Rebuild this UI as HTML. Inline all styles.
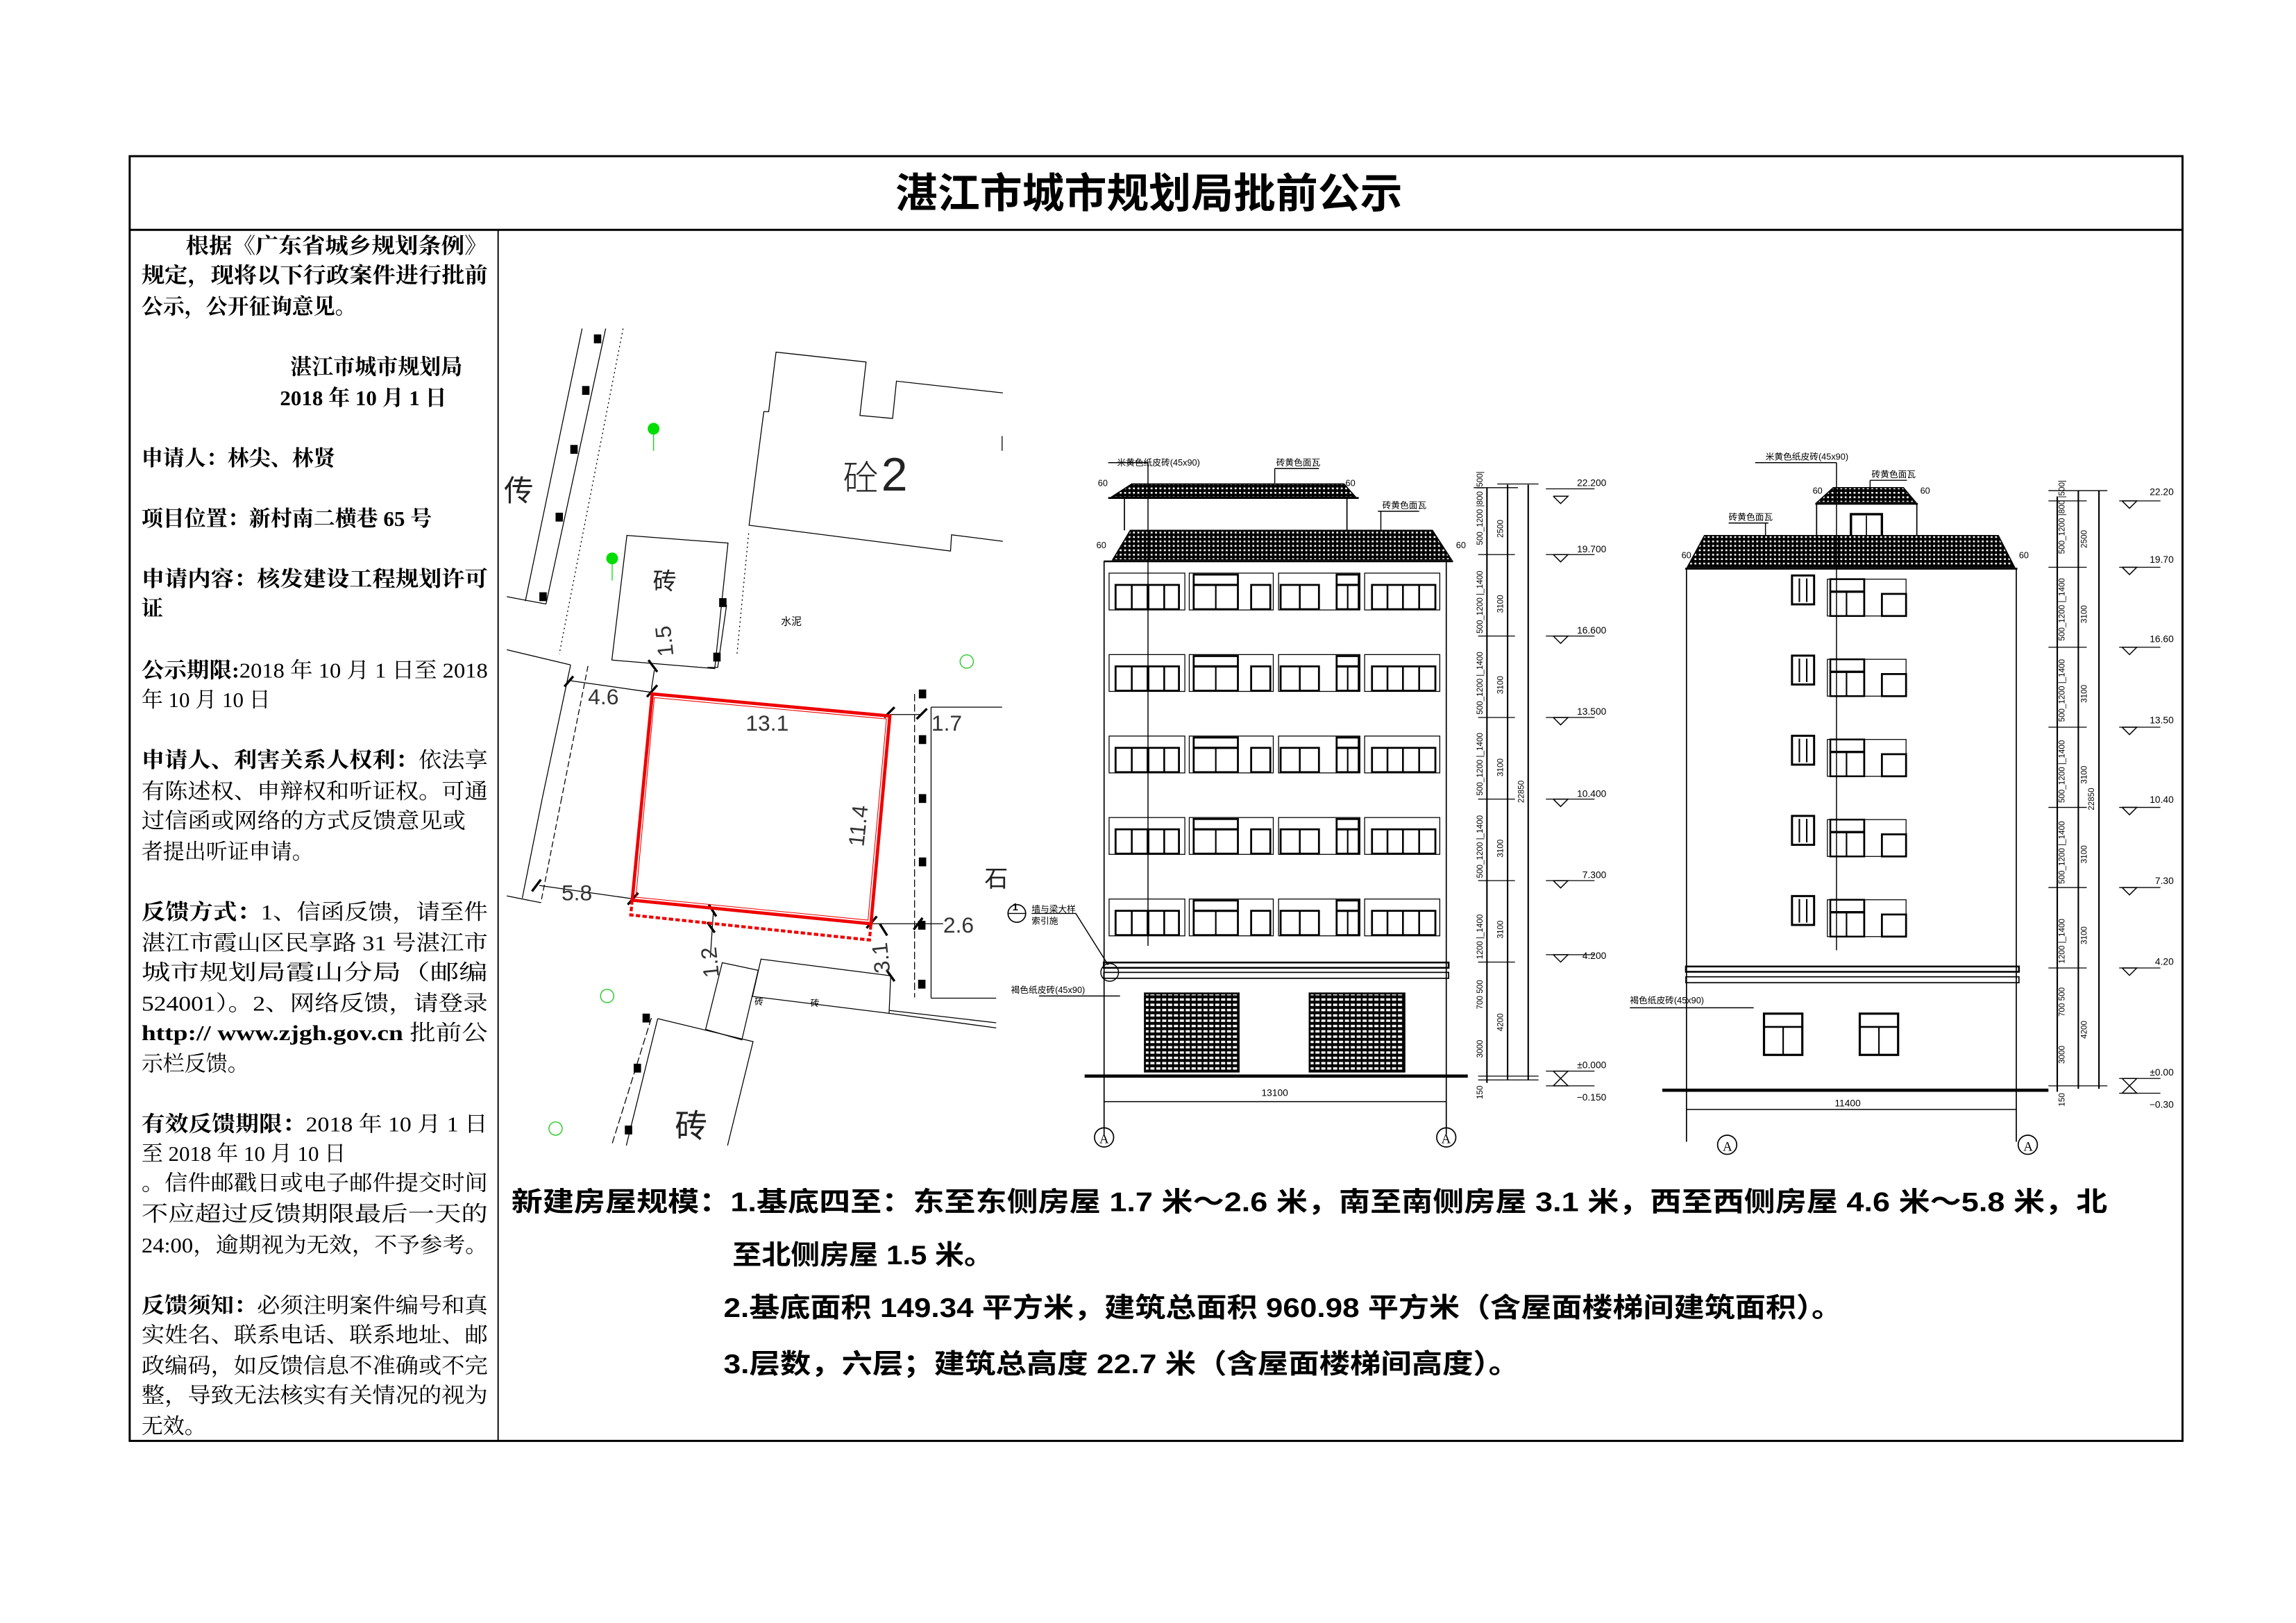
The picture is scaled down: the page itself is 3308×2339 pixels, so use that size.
<!DOCTYPE html>
<html><head><meta charset="utf-8"><style>
html,body{margin:0;padding:0;background:#fff;}
svg{display:block;}
.s{font-family:"Liberation Serif","Noto Serif CJK SC",serif;}
.h{font-family:"Liberation Sans","Noto Sans CJK SC",sans-serif;}
</style></head><body>
<svg width="3308" height="2339" viewBox="0 0 1558 1101.6" preserveAspectRatio="none" xmlns="http://www.w3.org/2000/svg">
<defs>
<pattern id="tile" width="3" height="3" patternUnits="userSpaceOnUse">
<rect width="3" height="3" fill="#000"/><rect x="0.8" y="0.9" width="1.3" height="1.2" fill="#fff"/>
</pattern>
<pattern id="garage" width="4" height="3.6" patternUnits="userSpaceOnUse">
<rect width="4" height="3.6" fill="#000"/><rect x="0.6" y="0.8" width="2.8" height="1.6" fill="#fff"/>
</pattern>
<g id="row1" fill="none" stroke="#000">
<rect x="752.6" y="0" width="51.4" height="25" stroke-width="0.6"/>
<rect x="757" y="8" width="43" height="16.5" stroke-width="1.3"/>
<line x1="768" y1="8" x2="768" y2="24.5" stroke-width="1.2"/><line x1="779" y1="8" x2="779" y2="24.5" stroke-width="1.8"/><line x1="790" y1="8" x2="790" y2="24.5" stroke-width="1.2"/>
<rect x="807" y="0" width="57" height="25" stroke-width="0.6"/>
<rect x="810" y="1" width="30" height="23.5" stroke-width="1.3"/><line x1="810" y1="8" x2="840" y2="8" stroke-width="1.5"/><line x1="825" y1="8" x2="825" y2="24.5" stroke-width="1"/>
<rect x="849" y="8" width="13" height="16.5" stroke-width="1.3"/>
<rect x="867.6" y="0" width="55.2" height="25" stroke-width="0.6"/>
<rect x="869" y="8" width="26" height="16.5" stroke-width="1.3"/><line x1="882" y1="8" x2="882" y2="24.5" stroke-width="1.2"/>
<rect x="907" y="1" width="15" height="23.5" stroke-width="1.3"/><line x1="907" y1="8" x2="922" y2="8" stroke-width="1.5"/><line x1="914.5" y1="8" x2="914.5" y2="24.5" stroke-width="1"/>
<rect x="926" y="0" width="51" height="25" stroke-width="0.6"/>
<rect x="931" y="8" width="43" height="16.5" stroke-width="1.3"/>
<line x1="941.5" y1="8" x2="941.5" y2="24.5" stroke-width="1.2"/><line x1="952" y1="8" x2="952" y2="24.5" stroke-width="1.2"/><line x1="963" y1="8" x2="963" y2="24.5" stroke-width="1.2"/>
</g>
<g id="row2" fill="none" stroke="#000">
<rect x="1216" y="0" width="15" height="19.6" stroke-width="1.4"/><line x1="1221" y1="2" x2="1221" y2="18" stroke-width="1"/><line x1="1226" y1="2" x2="1226" y2="18" stroke-width="1"/>
<rect x="1240" y="2.5" width="53.4" height="25" stroke-width="0.6"/>
<rect x="1242" y="2.5" width="23" height="25" stroke-width="1.2"/><line x1="1242" y1="11" x2="1265" y2="11" stroke-width="1.6"/><line x1="1253" y1="11" x2="1253" y2="27.5" stroke-width="1"/>
<line x1="1265" y1="2.5" x2="1265" y2="27.5" stroke-width="1.2"/>
<rect x="1277" y="12.5" width="16.4" height="15" stroke-width="1.3"/>
</g>
</defs>

<!-- outer frame -->
<rect x="88" y="106" width="1393" height="872" fill="none" stroke="#000" stroke-width="1.4"/>
<line x1="88" y1="156" x2="1481" y2="156" stroke="#000" stroke-width="1.4"/>
<line x1="338" y1="156" x2="338" y2="978" stroke="#000" stroke-width="0.9"/>
<text x="607.6" y="141" class="h" font-size="28" font-weight="bold" textLength="344" lengthAdjust="spacingAndGlyphs">湛江市城市规划局批前公示</text>

<!-- left text -->
<g class="s" font-size="14.6" fill="#000">
<g font-weight="bold">
<text x="126" y="172" textLength="205" lengthAdjust="spacingAndGlyphs">根据《广东省城乡规划条例》</text>
<text x="96" y="192" textLength="235" lengthAdjust="spacingAndGlyphs">规定，现将以下行政案件进行批前</text>
<text x="96" y="213">公示，公开征询意见。</text>
<text x="197" y="254">湛江市城市规划局</text>
<text x="190" y="275">2018 年 10 月 1 日</text>
</g>
<text x="96" y="316"><tspan font-weight="bold">申请人：林尖、林贤</tspan></text>
<text x="96" y="357" font-weight="bold">项目位置：新村南二横巷 65 号</text>
<text x="96" y="398" font-weight="bold" textLength="235" lengthAdjust="spacingAndGlyphs">申请内容：核发建设工程规划许可</text>
<text x="96" y="418" font-weight="bold">证</text>
<text x="96" y="460" textLength="235" lengthAdjust="spacingAndGlyphs"><tspan font-weight="bold">公示期限:</tspan>2018 年 10 月 1 日至 2018</text>
<text x="96" y="480">年 10 月 10 日</text>
<text x="96" y="521" textLength="235" lengthAdjust="spacingAndGlyphs"><tspan font-weight="bold">申请人、利害关系人权利：</tspan>依法享</text>
<text x="96" y="542" textLength="235" lengthAdjust="spacingAndGlyphs">有陈述权、申辩权和听证权。可通</text>
<text x="96" y="562" textLength="220" lengthAdjust="spacingAndGlyphs">过信函或网络的方式反馈意见或</text>
<text x="96" y="583">者提出听证申请。</text>
<text x="96" y="624" textLength="235" lengthAdjust="spacingAndGlyphs"><tspan font-weight="bold">反馈方式：</tspan>1、信函反馈，请至件</text>
<text x="96" y="645" textLength="235" lengthAdjust="spacingAndGlyphs">湛江市霞山区民享路 31 号湛江市</text>
<text x="96" y="665" textLength="235" lengthAdjust="spacingAndGlyphs">城市规划局霞山分局（邮编</text>
<text x="96" y="686" textLength="235" lengthAdjust="spacingAndGlyphs">524001）。2、网络反馈，请登录</text>
<text x="96" y="706" textLength="235" lengthAdjust="spacingAndGlyphs"><tspan font-weight="bold">http:// www.zjgh.gov.cn</tspan> 批前公</text>
<text x="96" y="727">示栏反馈。</text>
<text x="96" y="768" textLength="235" lengthAdjust="spacingAndGlyphs"><tspan font-weight="bold">有效反馈期限：</tspan>2018 年 10 月 1 日</text>
<text x="96" y="788">至 2018 年 10 月 10 日</text>
<text x="96" y="808" textLength="235" lengthAdjust="spacingAndGlyphs">。信件邮戳日或电子邮件提交时间</text>
<text x="96" y="829" textLength="235" lengthAdjust="spacingAndGlyphs">不应超过反馈期限最后一天的</text>
<text x="96" y="850" textLength="235" lengthAdjust="spacingAndGlyphs">24:00，逾期视为无效，不予参考。</text>
<text x="96" y="891" textLength="235" lengthAdjust="spacingAndGlyphs"><tspan font-weight="bold">反馈须知：</tspan>必须注明案件编号和真</text>
<text x="96" y="911" textLength="235" lengthAdjust="spacingAndGlyphs">实姓名、联系电话、联系地址、邮</text>
<text x="96" y="932" textLength="235" lengthAdjust="spacingAndGlyphs">政编码，如反馈信息不准确或不完</text>
<text x="96" y="952" textLength="235" lengthAdjust="spacingAndGlyphs">整，导致无法核实有关情况的视为</text>
<text x="96" y="973">无效。</text>
</g>

<!-- bottom text -->
<g class="h" font-size="18.5" font-weight="bold" fill="#000">
<text x="347" y="822" textLength="1083" lengthAdjust="spacingAndGlyphs">新建房屋规模：1.基底四至：东至东侧房屋 1.7 米～2.6 米，南至南侧房屋 3.1 米，西至西侧房屋 4.6 米～5.8 米，北</text>
<text x="497" y="858" textLength="177" lengthAdjust="spacingAndGlyphs">至北侧房屋 1.5 米。</text>
<text x="491" y="894" textLength="759" lengthAdjust="spacingAndGlyphs">2.基底面积 149.34 平方米，建筑总面积 960.98 平方米（含屋面楼梯间建筑面积）。</text>
<text x="491" y="932" textLength="540" lengthAdjust="spacingAndGlyphs">3.层数，六层；建筑总高度 22.7 米（含屋面楼梯间高度）。</text>
</g>

<!-- site plan -->
<g fill="none" stroke="#000" stroke-width="0.6">
<line x1="395" y1="223" x2="356.5" y2="408"/>
<line x1="411" y1="223" x2="370.5" y2="410"/>
<line x1="422.8" y1="223" x2="379.5" y2="444" stroke-dasharray="1,2"/>
<line x1="343.9" y1="405" x2="370.5" y2="410"/>
<line x1="343.9" y1="441" x2="387.2" y2="451.3"/>
<line x1="387.2" y1="451.3" x2="368" y2="541.7"/>
<line x1="399" y1="452" x2="381.1" y2="541.7" stroke-dasharray="4,2"/>
<line x1="368" y1="541.7" x2="354.4" y2="609.6"/>
<line x1="381.1" y1="541.7" x2="367" y2="612.7" stroke-dasharray="4,2"/>
<line x1="343.9" y1="608.1" x2="367" y2="612.7"/>
<polyline points="680.5,266.7 608.3,258.7 605.7,284 583.5,282 587.7,245.7 526.6,239 521.6,279.4 518.3,279.4 508.3,356.5 645,374 645.7,363 680.5,367.4"/>
<line x1="680" y1="296" x2="680" y2="306"/>
<line x1="508" y1="362" x2="500" y2="445" stroke-dasharray="1,2"/>
<polygon points="425.4,363.4 494,368.6 485,453.8 415.2,448"/>
<polyline points="489,411 493,411 487,453 480,453"/>
<line x1="444" y1="455" x2="442" y2="468"/>
<!-- east -->
<line x1="620.6" y1="471" x2="620.6" y2="677" stroke-dasharray="5,2"/>
<line x1="631.8" y1="480" x2="631.8" y2="677.5"/>
<line x1="631.8" y1="480" x2="680" y2="480"/>
<line x1="631.8" y1="677.5" x2="676" y2="677.5"/>
<line x1="603.3" y1="685.8" x2="676" y2="694.2"/>
<line x1="603.3" y1="687.8" x2="676" y2="697.7"/>
<!-- south -->
<polygon points="490.1,653.4 514.5,658.6 503.4,705.8 478.8,698.7"/>
<polygon points="516.4,651 604.4,662.3 603.3,687.8 510.6,676.3"/>
<polyline points="446.3,691.4 511,707 493.7,777.5"/>
<line x1="446.3" y1="691.4" x2="425" y2="777.5"/>
<line x1="442" y1="691" x2="415" y2="777.5" stroke-dasharray="5,2"/>
<!-- dim lines -->
<line x1="387" y1="462" x2="442.6" y2="470"/>
<line x1="366" y1="601" x2="429" y2="610"/>
<line x1="603.8" y1="485" x2="626" y2="485"/>
<line x1="591" y1="627" x2="640" y2="627"/>
<line x1="484" y1="620" x2="482" y2="650"/>
</g>
<g fill="#000">
<rect x="403" y="227" width="5" height="6"/><rect x="395" y="262" width="5" height="6"/><rect x="387" y="302" width="5" height="6"/><rect x="377" y="348" width="5" height="6"/><rect x="366" y="402" width="5" height="6"/>
<rect x="488" y="406" width="5" height="6"/><rect x="484" y="443" width="5" height="6"/>
<rect x="623.5" y="468" width="5" height="6"/><rect x="623.5" y="499" width="5" height="6"/><rect x="623.5" y="539" width="5" height="6"/><rect x="623.5" y="582" width="5" height="6"/><rect x="623" y="625" width="5" height="6"/><rect x="623" y="665" width="5" height="6"/>
<rect x="436" y="688" width="5" height="6"/><rect x="430" y="722" width="5" height="6"/><rect x="424" y="764" width="5" height="6"/>
</g>
<g stroke="#000" stroke-width="1.6">
<line x1="383" y1="466" x2="389" y2="459"/><line x1="439" y1="473" x2="446" y2="465"/><line x1="440" y1="448" x2="446" y2="456"/>
<line x1="600" y1="487" x2="607" y2="480"/><line x1="622" y1="488" x2="629" y2="481"/>
<line x1="361" y1="605" x2="367" y2="597"/><line x1="426" y1="614" x2="433" y2="606"/>
<line x1="481" y1="614" x2="486" y2="622"/><line x1="480" y1="626" x2="485" y2="633"/>
<line x1="588" y1="630" x2="595" y2="622"/><line x1="597" y1="627" x2="602" y2="635"/><line x1="620" y1="631" x2="626" y2="623"/>
<line x1="602" y1="659" x2="607" y2="666"/>
</g>
<!-- red site -->
<polygon points="442.6,471 603.8,486 591,627 429,611" fill="none" stroke="#e00" stroke-width="2.2"/>
<polygon points="444,473.5 601.5,488 589,624.5 431.5,609" fill="none" stroke="#e00" stroke-width="0.5"/>
<polyline points="429,611 428,621 590,638 591,627" fill="none" stroke="#e00" stroke-width="2" stroke-dasharray="3,1.5"/>
<!-- green -->
<g fill="#0d0" stroke="#0d0">
<ellipse cx="443.5" cy="291" rx="3.5" ry="3.5"/><line x1="443.5" y1="291" x2="443.5" y2="306" stroke-width="0.6"/>
<ellipse cx="415.4" cy="379" rx="3.5" ry="3.5"/><line x1="415.4" y1="379" x2="415.4" y2="394" stroke-width="0.6"/>
</g>
<g fill="none" stroke="#3c3" stroke-width="0.7">
<circle cx="656" cy="449" r="4.5"/><circle cx="412" cy="676" r="4.5"/><circle cx="377" cy="766" r="4.5"/>
</g>
<g class="h" fill="#000" font-weight="normal">
<text x="572" y="333" font-size="24" font-weight="300" fill="#222">砼</text>
<text x="598" y="333" font-size="32" font-weight="300" fill="#222">2</text>
<text x="443" y="400" font-size="16" fill="#222">砖</text>
<text x="530" y="424" font-size="7">水泥</text>
<text x="342" y="340" font-size="20" fill="#222">传</text>
<text x="458" y="772" font-size="22" fill="#222">砖</text>
<text x="668" y="602" font-size="16" fill="#222">石</text>
<text x="512" y="682" font-size="6">砖</text>
<text x="550" y="683" font-size="6">砖</text>
<g font-size="15" fill="#333">
<text x="399" y="478">4.6</text>
<text x="506" y="496">13.1</text>
<text x="632" y="496">1.7</text>
<text x="381" y="611">5.8</text>
<text x="640" y="633">2.6</text>
<text transform="translate(586,575) rotate(-84)">11.4</text>
<text transform="translate(457,445) rotate(-96)">1.5</text>
<text transform="translate(488,663) rotate(-96)">1.2</text>
<text transform="translate(604,660) rotate(-96)">3.1</text>
</g>
</g>

<!-- elevation 1 -->
<g stroke="#000" fill="none">
<polygon points="768,328.5 912,328.5 920,337.5 754,337.5" fill="url(#tile)" stroke-width="0.8"/>
<line x1="752" y1="338" x2="922" y2="338" stroke-width="1.2"/>
<line x1="763" y1="338" x2="763" y2="360" stroke-width="0.8"/>
<line x1="914" y1="338" x2="914" y2="360" stroke-width="0.8"/>
<polygon points="767,360 972,360 985,380 755,380" fill="url(#tile)" stroke-width="0.8"/>
<line x1="749" y1="381" x2="986" y2="381" stroke-width="1.2"/>
<line x1="749.2" y1="381" x2="749.2" y2="770" stroke-width="0.8"/>
<line x1="981.4" y1="381" x2="981.4" y2="770" stroke-width="0.8"/>
<line x1="779" y1="314" x2="779" y2="642" stroke-width="0.7"/>
<line x1="752" y1="314" x2="779" y2="314" stroke-width="0.7"/>
<line x1="865" y1="318" x2="895" y2="318" stroke-width="0.7"/><line x1="865" y1="318" x2="865" y2="328" stroke-width="0.7"/>
<line x1="935" y1="347" x2="963" y2="347" stroke-width="0.7"/><line x1="937" y1="347" x2="937" y2="360" stroke-width="0.7"/>
<rect x="749" y="653.3" width="234" height="3.6" stroke-width="1.2"/>
<rect x="749" y="660" width="234" height="4" stroke-width="0.8"/>
<line x1="736" y1="730.4" x2="996" y2="730.4" stroke-width="2.2"/>
<rect x="776.9" y="674.3" width="63.6" height="53" fill="url(#garage)" stroke-width="1.3"/>
<rect x="888.7" y="674.3" width="64.3" height="53" fill="url(#garage)" stroke-width="1.3"/>
<line x1="749" y1="747.7" x2="981.4" y2="747.7" stroke-width="0.7"/>
<circle cx="749.2" cy="772" r="6.5" stroke-width="0.8"/>
<circle cx="981.4" cy="772" r="6.5" stroke-width="0.8"/>
<circle cx="753" cy="660" r="6" stroke-width="0.7"/>
<polyline points="700,620 730,620 752,655" stroke-width="0.7"/>
<circle cx="690" cy="620" r="6" stroke-width="0.8"/>
<line x1="684" y1="620" x2="696" y2="620" stroke-width="0.7"/>
<line x1="705" y1="676" x2="760" y2="676" stroke-width="0.7"/>
<!-- dims -->
<line x1="1009" y1="331" x2="1009" y2="735" stroke-width="1"/>
<line x1="1023" y1="329" x2="1023" y2="733" stroke-width="1"/>
<line x1="1037" y1="329" x2="1037" y2="733" stroke-width="1"/>
<g stroke-width="0.6">
<line x1="1000" y1="331" x2="1030" y2="331"/><line x1="1016" y1="328.5" x2="1044" y2="328.5"/>
<line x1="1003" y1="376.4" x2="1028" y2="376.4"/><line x1="1003" y1="431.7" x2="1028" y2="431.7"/><line x1="1003" y1="487" x2="1028" y2="487"/><line x1="1003" y1="542.4" x2="1028" y2="542.4"/><line x1="1003" y1="597.7" x2="1028" y2="597.7"/><line x1="1003" y1="653" x2="1028" y2="653"/>
<line x1="1003" y1="730.4" x2="1044" y2="730.4"/><line x1="1003" y1="733" x2="1044" y2="733"/>
<line x1="1049" y1="331.8" x2="1082" y2="331.8"/><line x1="1049" y1="376.4" x2="1082" y2="376.4"/><line x1="1049" y1="431.7" x2="1082" y2="431.7"/><line x1="1049" y1="487" x2="1082" y2="487"/><line x1="1049" y1="542.4" x2="1082" y2="542.4"/><line x1="1049" y1="597.7" x2="1082" y2="597.7"/><line x1="1049" y1="648" x2="1082" y2="648"/><line x1="1049" y1="727" x2="1082" y2="727"/><line x1="1049" y1="737" x2="1082" y2="737"/>
</g>
</g>
<g fill="none" stroke="#000" stroke-width="0.7">
<polyline points="1054,336.8 1064,336.8 1059,341.8 1054,336.8"/>
<polyline points="1054,376.4 1064,376.4 1059,381.4 1054,376.4"/>
<polyline points="1054,431.7 1064,431.7 1059,436.7 1054,431.7"/>
<polyline points="1054,487 1064,487 1059,492 1054,487"/>
<polyline points="1054,542.4 1064,542.4 1059,547.4 1054,542.4"/>
<polyline points="1054,597.7 1064,597.7 1059,602.7 1054,597.7"/>
<polyline points="1054,648 1064,648 1059,653 1054,648"/>
<polyline points="1054,727 1064,727 1059,732 1054,727"/>
<polyline points="1054,737 1064,737 1059,732 1054,737"/>
</g>
<use href="#row1" transform="translate(0,389)"/>
<use href="#row1" transform="translate(0,444.3)"/>
<use href="#row1" transform="translate(0,499.6)"/>
<use href="#row1" transform="translate(0,554.9)"/>
<use href="#row1" transform="translate(0,610.2)"/>
<g class="h" fill="#000" font-size="6">
<text x="758" y="316">米黄色纸皮砖(45x90)</text>
<text x="866" y="316">砖黄色面瓦</text>
<text x="938" y="345">砖黄色面瓦</text>
<text x="745" y="330">60</text><text x="913" y="330">60</text>
<text x="744" y="372">60</text><text x="988" y="372">60</text>
<text x="700" y="619">墙与梁大样</text><text x="700" y="627">索引施</text>
<text x="687" y="618" font-size="7" font-weight="bold">1</text>
<text x="686" y="674">褐色纸皮砖(45x90)</text>
<text x="856" y="744" font-size="6.5">13100</text>
<text x="746" y="776" font-size="9" class="s">A</text><text x="978" y="776" font-size="9" class="s">A</text>
<g text-anchor="end" font-size="6.5">
<text x="1090" y="330">22.200</text><text x="1090" y="375">19.700</text><text x="1090" y="430">16.600</text><text x="1090" y="485">13.500</text><text x="1090" y="541">10.400</text><text x="1090" y="596">7.300</text><text x="1090" y="651">4.200</text><text x="1090" y="725">±0.000</text><text x="1090" y="747">−0.150</text>
</g>
<g font-size="5.5">
<text transform="translate(1006,370) rotate(-90)">500_1200 |800 |500|</text>
<text transform="translate(1006,430) rotate(-90)">500_1200 |_1400</text>
<text transform="translate(1006,485) rotate(-90)">500_1200 |_1400</text>
<text transform="translate(1006,540) rotate(-90)">500_1200 |_1400</text>
<text transform="translate(1006,596) rotate(-90)">500_1200 |_1400</text>
<text transform="translate(1006,651) rotate(-90)">1200 |_1400</text>
<text transform="translate(1006,685) rotate(-90)">700 500</text>
<text transform="translate(1006,718) rotate(-90)">3000</text>
<text transform="translate(1006,746) rotate(-90)">150</text>
<text transform="translate(1020,365) rotate(-90)">2500</text>
<text transform="translate(1020,416) rotate(-90)">3100</text><text transform="translate(1020,471) rotate(-90)">3100</text><text transform="translate(1020,527) rotate(-90)">3100</text><text transform="translate(1020,582) rotate(-90)">3100</text><text transform="translate(1020,637) rotate(-90)">3100</text>
<text transform="translate(1020,700) rotate(-90)">4200</text>
<text transform="translate(1034,545) rotate(-90)">22850</text>
</g>
</g>

<!-- elevation 2 -->
<g stroke="#000" fill="none">
<polygon points="1244,331 1291.6,331 1300,341 1233,341" fill="url(#tile)" stroke-width="0.8"/>
<line x1="1231.8" y1="342" x2="1301.4" y2="342" stroke-width="1.2"/>
<line x1="1232.7" y1="342" x2="1232.7" y2="364" stroke-width="0.8"/>
<line x1="1300.7" y1="342" x2="1300.7" y2="364" stroke-width="0.8"/>
<rect x="1256" y="349" width="21" height="15" stroke-width="1.6"/><line x1="1266.5" y1="350" x2="1266.5" y2="364" stroke-width="0.8"/>
<polygon points="1156.6,363.5 1356,363.5 1367,385 1145,385" fill="url(#tile)" stroke-width="0.8"/>
<line x1="1143.5" y1="386" x2="1368.9" y2="386" stroke-width="1.2"/>
<line x1="1144.4" y1="386" x2="1144.4" y2="775" stroke-width="0.8"/>
<line x1="1368.2" y1="386" x2="1368.2" y2="775" stroke-width="0.8"/>
<line x1="1246.2" y1="314" x2="1246.2" y2="645" stroke-width="0.7"/>
<line x1="1191" y1="314" x2="1246.2" y2="314" stroke-width="0.7"/>
<line x1="1269" y1="326" x2="1294" y2="326" stroke-width="0.7"/><line x1="1269" y1="326" x2="1269" y2="332" stroke-width="0.7"/>
<line x1="1173" y1="355" x2="1200" y2="355" stroke-width="0.7"/><line x1="1198" y1="355" x2="1198" y2="364" stroke-width="0.7"/>
<rect x="1144" y="656" width="226" height="3.6" stroke-width="1.2"/>
<rect x="1144" y="663" width="226" height="4" stroke-width="0.8"/>
<line x1="1128" y1="740" x2="1390" y2="740" stroke-width="2.2"/>
<rect x="1197" y="688" width="26" height="28" stroke-width="1.5"/><line x1="1197" y1="697" x2="1223" y2="697" stroke-width="1.2"/><line x1="1210" y1="697" x2="1210" y2="716" stroke-width="1"/>
<rect x="1262" y="688" width="26" height="28" stroke-width="1.5"/><line x1="1262" y1="697" x2="1288" y2="697" stroke-width="1.2"/><line x1="1275" y1="697" x2="1275" y2="716" stroke-width="1"/>
<line x1="1106" y1="684" x2="1190" y2="684" stroke-width="0.7"/>
<line x1="1144" y1="753" x2="1368" y2="753" stroke-width="0.7"/>
<circle cx="1172" cy="777" r="6.5" stroke-width="0.8"/>
<circle cx="1376" cy="777" r="6.5" stroke-width="0.8"/>
<line x1="1396" y1="337" x2="1396" y2="741" stroke-width="1"/>
<line x1="1410.3" y1="333" x2="1410.3" y2="739" stroke-width="1"/>
<line x1="1424.3" y1="333" x2="1424.3" y2="739" stroke-width="1"/>
<g stroke-width="0.6">
<line x1="1390" y1="333" x2="1430" y2="333"/><line x1="1390" y1="340" x2="1416" y2="340"/>
<line x1="1390" y1="385" x2="1416" y2="385"/><line x1="1390" y1="439.3" x2="1416" y2="439.3"/><line x1="1390" y1="493.6" x2="1416" y2="493.6"/><line x1="1390" y1="548" x2="1416" y2="548"/><line x1="1390" y1="602.4" x2="1416" y2="602.4"/><line x1="1390" y1="657" x2="1416" y2="657"/>
<line x1="1390" y1="737" x2="1430" y2="737"/>
<line x1="1438" y1="340" x2="1466" y2="340"/><line x1="1438" y1="385" x2="1466" y2="385"/><line x1="1438" y1="439.3" x2="1466" y2="439.3"/><line x1="1438" y1="493.6" x2="1466" y2="493.6"/><line x1="1438" y1="548" x2="1466" y2="548"/><line x1="1438" y1="602.4" x2="1466" y2="602.4"/><line x1="1438" y1="657" x2="1466" y2="657"/><line x1="1438" y1="732" x2="1466" y2="732"/><line x1="1438" y1="742" x2="1466" y2="742"/>
</g>
<g stroke-width="0.7">
<polyline points="1440,340 1450,340 1445,345 1440,340"/><polyline points="1440,385 1450,385 1445,390 1440,385"/><polyline points="1440,439.3 1450,439.3 1445,444.3 1440,439.3"/><polyline points="1440,493.6 1450,493.6 1445,498.6 1440,493.6"/><polyline points="1440,548 1450,548 1445,553 1440,548"/><polyline points="1440,602.4 1450,602.4 1445,607.4 1440,602.4"/><polyline points="1440,657 1450,657 1445,662 1440,657"/><polyline points="1440,732 1450,732 1445,737 1440,732"/><polyline points="1440,742 1450,742 1445,737 1440,742"/>
</g>
</g>
<use href="#row2" transform="translate(0,390.6)"/>
<use href="#row2" transform="translate(0,445)"/>
<use href="#row2" transform="translate(0,499.4)"/>
<use href="#row2" transform="translate(0,553.8)"/>
<use href="#row2" transform="translate(0,608.2)"/>
<g class="h" fill="#000" font-size="6">
<text x="1198" y="312">米黄色纸皮砖(45x90)</text>
<text x="1270" y="324">砖黄色面瓦</text>
<text x="1173" y="353">砖黄色面瓦</text>
<text x="1230" y="335">60</text><text x="1303" y="335">60</text>
<text x="1141" y="379">60</text><text x="1370" y="379">60</text>
<text x="1106" y="681">褐色纸皮砖(45x90)</text>
<text x="1245" y="751" font-size="6.5">11400</text>
<text x="1169" y="781" font-size="9" class="s">A</text><text x="1373" y="781" font-size="9" class="s">A</text>
<g text-anchor="end" font-size="6.5">
<text x="1475" y="336">22.20</text><text x="1475" y="382">19.70</text><text x="1475" y="436">16.60</text><text x="1475" y="491">13.50</text><text x="1475" y="545">10.40</text><text x="1475" y="600">7.30</text><text x="1475" y="655">4.20</text><text x="1475" y="730">±0.00</text><text x="1475" y="752">−0.30</text>
</g>
<g font-size="5.5">
<text transform="translate(1401,376) rotate(-90)">500_1200 |800 |500|</text>
<text transform="translate(1401,435) rotate(-90)">500_1200 |_1400</text>
<text transform="translate(1401,490) rotate(-90)">500_1200 |_1400</text>
<text transform="translate(1401,545) rotate(-90)">500_1200 |_1400</text>
<text transform="translate(1401,600) rotate(-90)">500_1200 |_1400</text>
<text transform="translate(1401,654) rotate(-90)">1200 |_1400</text>
<text transform="translate(1401,690) rotate(-90)">700 500</text>
<text transform="translate(1401,722) rotate(-90)">3000</text>
<text transform="translate(1401,751) rotate(-90)">150</text>
<text transform="translate(1416,372) rotate(-90)">2500</text>
<text transform="translate(1416,423) rotate(-90)">3100</text><text transform="translate(1416,477) rotate(-90)">3100</text><text transform="translate(1416,532) rotate(-90)">3100</text><text transform="translate(1416,586) rotate(-90)">3100</text><text transform="translate(1416,641) rotate(-90)">3100</text>
<text transform="translate(1416,705) rotate(-90)">4200</text>
<text transform="translate(1421,550) rotate(-90)">22850</text>
</g>
</g>
</svg>
</body></html>
